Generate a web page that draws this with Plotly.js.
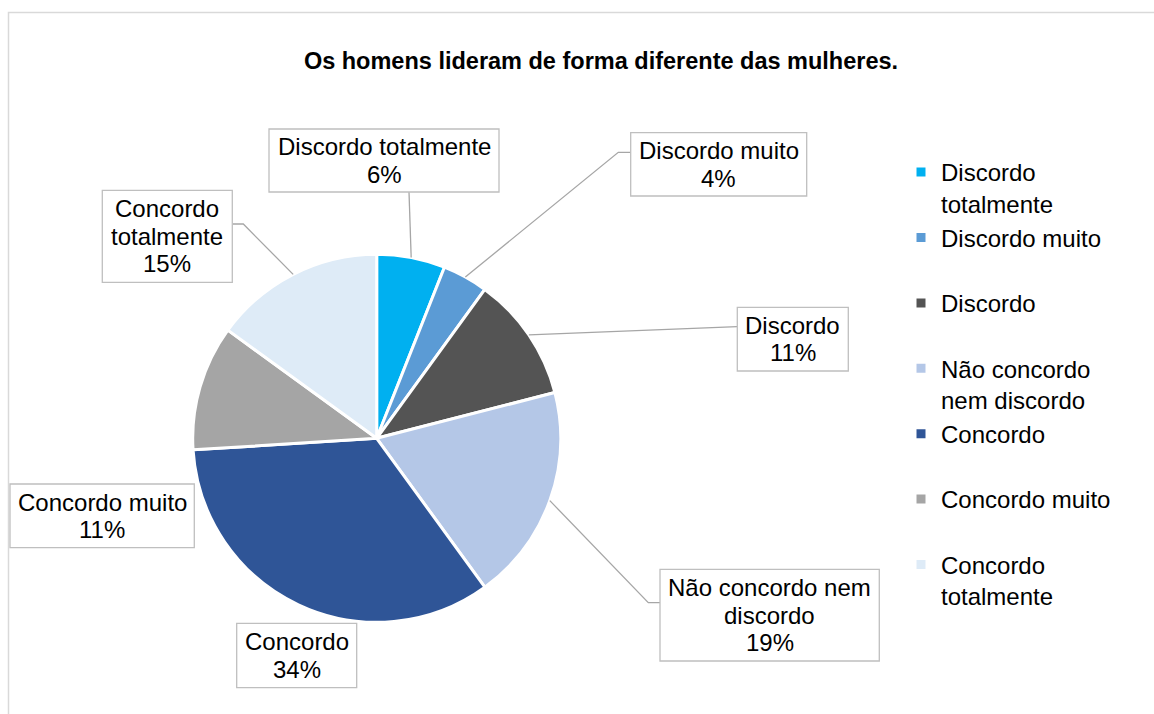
<!DOCTYPE html>
<html><head><meta charset="utf-8">
<script src="https://cdn.plot.ly/plotly-3.0.1.min.js"></script>
<style>html,body{margin:0;padding:0;background:#fff}#chart{width:1154px;height:714px}</style>
</head><body><div id="chart"></div>
<script>
// ---- data ----
const categories = ["Discordo totalmente","Discordo muito","Discordo","Não concordo nem discordo","Concordo","Concordo muito","Concordo totalmente"];
const values = [6, 4, 11, 19, 34, 11, 15];
const colors = ["#00B0F0","#5B9BD5","#545454","#B4C7E7","#2F5597","#A5A5A5","#DEEBF7"];
const legendLabels = ["Discordo<br>totalmente","Discordo muito<br>\u00a0","Discordo<br>\u00a0","Não concordo<br>nem discordo","Concordo<br>\u00a0","Concordo muito<br>\u00a0","Concordo<br>totalmente"];
const boxLabels = ["Discordo totalmente","Discordo muito","Discordo","Não concordo nem<br>discordo","Concordo","Concordo muito","Concordo<br>totalmente"];
const titleText = "Os homens lideram de forma diferente das mulheres.";

// ---- layout constants (pixels) ----
const W = 1154, H = 714;
const CX = 376.7, CY = 438.3, R = 184;
const FONT = "Liberation Sans, Arial, sans-serif";
const LINE_STEP = 27.5;
const px = x => x / W, py = y => 1 - y / H;

const boxes = [
  [269, 129, 499, 192],
  [630.7, 132.7, 806.7, 196],
  [737.3, 307.3, 848.3, 371],
  [660, 569.3, 879.3, 661],
  [236.7, 623.3, 356.7, 687.7],
  [10, 484, 194.3, 547.7],
  [102.3, 190.3, 232.3, 282.3]
];
const leaders = [
  {i: 0, pts: [[409, 192]]},
  {i: 1, pts: [[618.3, 152.3], [630.7, 152.3]]},
  {i: 2, pts: [[737.3, 326.7]]},
  {i: 3, pts: [[648.3, 602.7], [660, 602.7]]},
  {i: 6, pts: [[243.3, 224], [232.3, 224]]}
];

const total = values.reduce((a, b) => a + b, 0);
const cum = [];
values.reduce((acc, v, k) => { cum[k] = acc; return acc + v; }, 0);
function edgePoint(k) {
  const th = 2 * Math.PI * (cum[k] + values[k] / 2) / total;
  return [CX + R * Math.sin(th), CY - R * Math.cos(th)];
}

const shapes = [];
// outer frame
shapes.push({type: "rect", xref: "paper", yref: "paper", x0: px(8.5), y0: py(12.5), x1: 1.02, y1: -0.02,
  line: {color: "#D9D9D9", width: 1.5}, fillcolor: "rgba(0,0,0,0)", layer: "below"});
// leader lines
leaders.forEach(L => {
  const p0 = edgePoint(L.i);
  let d = `M${px(p0[0])},${py(p0[1])}`;
  L.pts.forEach(p => { d += ` L${px(p[0])},${py(p[1])}`; });
  shapes.push({type: "path", xref: "paper", yref: "paper", path: d, line: {color: "#A6A6A6", width: 1.3}});
});
// label boxes
const annotations = [];
boxes.forEach((b, k) => {
  shapes.push({type: "rect", xref: "paper", yref: "paper", x0: px(b[0]), y0: py(b[1]), x1: px(b[2]), y1: py(b[3]),
    line: {color: "#BFBFBF", width: 1.3}, fillcolor: "#FFFFFF"});
  const lines = boxLabels[k].split("<br>").concat([Math.round(values[k] / total * 100) + "%"]);
  const cx = (b[0] + b[2]) / 2, cy = (b[1] + b[3]) / 2;
  lines.forEach((t, j) => {
    annotations.push({xref: "paper", yref: "paper", x: px(cx), y: py(cy + (j - (lines.length - 1) / 2) * LINE_STEP),
      xanchor: "center", yanchor: "middle", showarrow: false, align: "center",
      text: t, font: {family: FONT, size: 24, color: "#000"}});
  });
});

const trace = {
  type: "pie",
  labels: legendLabels,
  values: values,
  hovertext: categories,
  hoverinfo: "text+percent",
  sort: false,
  direction: "clockwise",
  rotation: 0,
  textinfo: "none",
  marker: {colors: colors, line: {color: "#FFFFFF", width: 3}},
  domain: {x: [px(CX - R), px(CX + R)], y: [py(CY + R), py(CY - R)]}
};

const layout = {
  width: W, height: H,
  margin: {l: 0, r: 0, t: 0, b: 0},
  paper_bgcolor: "#FFFFFF",
  title: {text: "<b>" + titleText + "</b>", x: px(601), xanchor: "center", y: py(61), yanchor: "middle",
    font: {family: FONT, size: 23.5, color: "#000"}},
  showlegend: true,
  legend: {x: px(901), xanchor: "left", y: py(150), yanchor: "top", valign: "top",
    font: {family: FONT, size: 24, color: "#000"}, bgcolor: "rgba(0,0,0,0)", itemwidth: 30},
  shapes: shapes,
  annotations: annotations
};

Plotly.newPlot("chart", [trace], layout, {displayModeBar: false, staticPlot: true});
</script></body></html>
